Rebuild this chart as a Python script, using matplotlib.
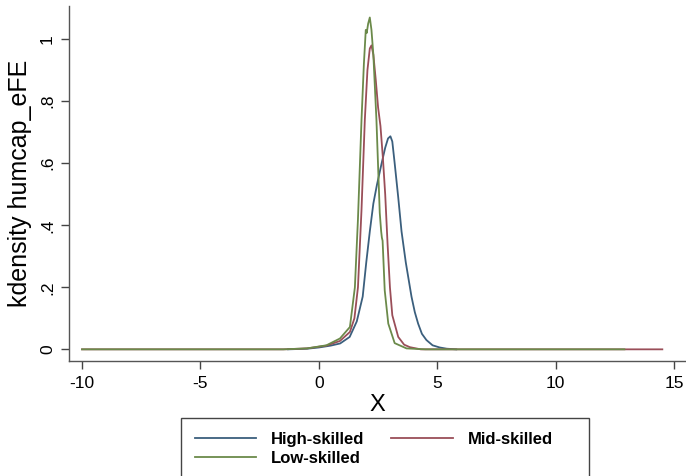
import numpy as np
import matplotlib
matplotlib.use("Agg")
import matplotlib.pyplot as plt
from matplotlib.patches import Rectangle

plt.rcParams['font.family'] = ['Liberation Sans', 'DejaVu Sans']
plt.rcParams['axes.unicode_minus'] = False

# kdensity curves (x, density)
high_x = [-1.3, -0.5, 0.0, 0.5, 0.9, 1.3, 1.6, 1.85, 2.0, 2.15, 2.3, 2.45, 2.65, 2.8, 2.92,
          3.02, 3.1, 3.2, 3.35, 3.49, 3.67, 3.91, 4.05, 4.19, 4.35, 4.54, 4.8, 5.1, 5.4, 5.8]
high_y = [0.0, 0.002, 0.006, 0.012, 0.019, 0.04, 0.09, 0.17, 0.28, 0.38, 0.47, 0.53, 0.6, 0.65, 0.68,
          0.687, 0.67, 0.6, 0.49, 0.38, 0.28, 0.17, 0.12, 0.083, 0.05, 0.03, 0.013, 0.006, 0.002, 0.0]

mid_x = [-10.0, -3.0, -1.5, -0.5, 0.32, 0.89, 1.31, 1.5, 1.65, 1.8, 1.94, 2.05, 2.15, 2.22,
         2.3, 2.4, 2.5, 2.6, 2.7, 2.8, 2.9, 3.0, 3.1, 3.35, 3.6, 3.84, 4.3, 8.0, 14.5]
mid_y = [0.0, 0.0, 0.0, 0.003, 0.012, 0.027, 0.056, 0.1, 0.2, 0.45, 0.74, 0.9, 0.97, 0.98,
         0.95, 0.87, 0.78, 0.72, 0.62, 0.5, 0.34, 0.2, 0.11, 0.04, 0.015, 0.007, 0.0, 0.0, 0.0]

low_x = [-10.0, -3.0, -1.5, -0.5, 0.32, 0.89, 1.31, 1.52, 1.65, 1.8, 1.9, 1.98, 2.02, 2.08,
         2.15, 2.22, 2.3, 2.43, 2.57, 2.63, 2.66, 2.69, 2.78, 2.93, 3.2, 3.7, 4.5, 8.0, 12.9]
low_y = [0.0, 0.0, 0.0, 0.003, 0.013, 0.035, 0.072, 0.2, 0.42, 0.74, 0.92, 1.03, 1.02, 1.05,
         1.07, 1.03, 0.95, 0.74, 0.44, 0.38, 0.36, 0.35, 0.19, 0.083, 0.02, 0.003, 0.0, 0.0, 0.0]

labels = ['High-skilled', 'Mid-skilled', 'Low-skilled']
colors = ['#3b5f7d', '#9a4e58', '#6b8a4a']

x_ticks = [-10, -5, 0, 5, 10, 15]
y_ticks = [0, 0.2, 0.4, 0.6, 0.8, 1.0]
y_ticklabels = ['0', '.2', '.4', '.6', '.8', '1']

fig = plt.figure(figsize=(6.86, 4.76), dpi=100)
ax = fig.add_axes([69 / 686, 1 - 360.5 / 476, 1 - 69 / 686, (360.5 - 6) / 476])

h_high, = ax.plot(high_x, high_y, color=colors[0], lw=1.3)
h_mid, = ax.plot(mid_x, mid_y, color=colors[1], lw=1.3)
h_low, = ax.plot(low_x, low_y, color=colors[2], lw=1.3)

ax.set_xlim(-10.55, 15.5)
ax.set_ylim(-0.036, 1.107)

for s in ['top', 'right']:
    ax.spines[s].set_visible(False)
for s in ['left', 'bottom']:
    ax.spines[s].set_color('#555555')
    ax.spines[s].set_linewidth(1.0)

ax.set_xticks(x_ticks)
ax.set_yticks(y_ticks)
ax.set_yticklabels(y_ticklabels, rotation=90, va='center')
ax.tick_params(axis='both', colors='#444444', labelcolor='black', labelsize=12.5,
               length=6, width=1.0)
ax.tick_params(axis='y', pad=4)
ax.tick_params(axis='x', pad=5)

ax.set_xlabel('X', fontsize=17, labelpad=2)
ax.set_ylabel('kdensity humcap_eFE', fontsize=18, labelpad=6)

# legend box in Stata style, partly cut off at the bottom of the figure
fig.patches.append(Rectangle((181 / 686, -0.05), (589 - 181) / 686, 1 - 418 / 476 + 0.05,
                             transform=fig.transFigure, fill=False, edgecolor='#444444', lw=1.0))
leg = fig.legend([h_high, h_low, h_mid], [labels[0], labels[2], labels[1]],
                 ncol=2, loc='upper left', bbox_to_anchor=(183 / 686, 1 - 420 / 476),
                 frameon=False, prop={'weight': 'bold', 'size': 12},
                 handlelength=3.7, handletextpad=0.9, columnspacing=1.6,
                 labelspacing=0.25, borderpad=0.2)
for line in leg.get_lines():
    line.set_linewidth(1.3)

fig.savefig('out.png', dpi=100)
